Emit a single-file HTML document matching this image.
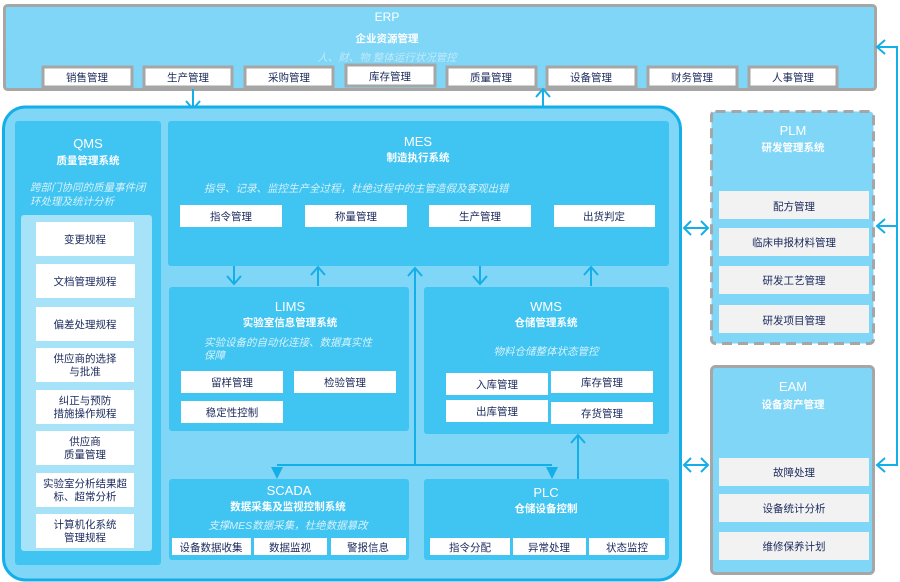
<!DOCTYPE html>
<html><head><meta charset="utf-8"><style>
html,body{margin:0;padding:0;background:#fff;width:900px;height:582px;overflow:hidden}
text{font-family:"Liberation Sans","Noto Sans CJK SC",sans-serif}
.t{fill:#fff;font-weight:bold;text-anchor:middle}
.h{fill:#fff;font-weight:normal;text-anchor:middle}
.it{fill:#d6f1fc;font-style:italic;font-size:10.5px}
.k{fill:#1b2a5c;font-size:10.5px;text-anchor:middle}
.ln{stroke:#14aee8;stroke-width:2;fill:none}
</style></head><body>
<svg width="900" height="582" viewBox="0 0 900 582" xmlns="http://www.w3.org/2000/svg">
<!-- ERP -->
<rect x="4.5" y="5.5" width="871" height="84" rx="3" fill="#7fd6f7" stroke="#a6a6a6" stroke-width="3"/>
<text x="387" y="21" class="h" font-size="12">ERP</text>
<text x="387" y="42" class="t" font-size="10.5">企业资源管理</text>
<text x="387" y="61" class="it" text-anchor="middle" style="fill:#c0e9fa">人、财、物 整体运行状况管控</text>
<g stroke="#a6a6a6" stroke-width="3" fill="#fff">
<rect x="43" y="67" width="89" height="20"/><rect x="144" y="67" width="88" height="20"/>
<rect x="245" y="67" width="88" height="20"/><rect x="346" y="65" width="89" height="21"/>
<rect x="447" y="67" width="89" height="20"/><rect x="547" y="67" width="89" height="20"/>
<rect x="648" y="67" width="89" height="20"/><rect x="749" y="67" width="88" height="20"/>
</g>
<text x="87" y="81" class="k">销售管理</text><text x="188" y="81" class="k">生产管理</text>
<text x="289" y="81" class="k">采购管理</text><text x="390" y="80" class="k">库存管理</text>
<text x="491" y="81" class="k">质量管理</text><text x="591" y="81" class="k">设备管理</text>
<text x="692" y="81" class="k">财务管理</text><text x="793" y="81" class="k">人事管理</text>
<!-- ERP arrows -->
<path class="ln" d="M193 89V109 M186 101L193 109L200 101"/>
<path class="ln" d="M543 107V89 M536 97L543 89L550 97"/>
<path class="ln" d="M877 47H897V465H878 M885 40L877 47L885 54 M885 219L877 226L885 233 M885 458L877 465L885 472 M877 226H897"/>
<!-- big container -->
<rect x="3.5" y="107" width="677" height="473" rx="22" fill="#7fd6f7" stroke="#14aee8" stroke-width="3"/>
<!-- QMS -->
<rect x="15" y="121" width="146" height="444" rx="3" fill="#40c4f1"/>
<text x="88" y="148" class="h" font-size="13">QMS</text>
<text x="88" y="164" class="t" font-size="10.5">质量管理系统</text>
<text x="30" y="191" class="it">跨部门协同的质量事件闭</text>
<text x="30" y="205" class="it">环处理及统计分析</text>
<rect x="21" y="215" width="131" height="336" rx="3" fill="#a6e3f8"/>
<g fill="#fff"><rect x="36" y="222" width="98" height="34"/><rect x="36" y="264" width="99" height="34"/>
<rect x="36" y="307" width="98" height="34"/><rect x="36" y="348" width="98" height="34"/>
<rect x="36" y="390" width="98" height="34"/><rect x="36" y="431" width="98" height="34"/>
<rect x="36" y="473" width="98" height="34"/><rect x="36" y="514" width="98" height="34"/></g>
<text x="85" y="243" class="k">变更规程</text><text x="85" y="285" class="k">文档管理规程</text>
<text x="85" y="328" class="k">偏差处理规程</text>
<text x="85" y="362" class="k">供应商的选择</text><text x="85" y="375" class="k">与批准</text>
<text x="85" y="404" class="k">纠正与预防</text><text x="85" y="417" class="k">措施操作规程</text>
<text x="85" y="445" class="k">供应商</text><text x="85" y="458" class="k">质量管理</text>
<text x="85" y="487" class="k">实验室分析结果超</text><text x="85" y="500" class="k">标、超常分析</text>
<text x="85" y="528" class="k">计算机化系统</text><text x="85" y="541" class="k">管理规程</text>
<!-- MES -->
<rect x="168" y="121" width="501" height="145" rx="3" fill="#40c4f1"/>
<text x="418" y="146" class="h" font-size="13">MES</text>
<text x="418" y="161" class="t" font-size="10.5">制造执行系统</text>
<text x="204" y="192" class="it">指导、记录、监控生产全过程，杜绝过程中的主管造假及客观出错</text>
<g fill="#fff"><rect x="180" y="205" width="102" height="22"/><rect x="305" y="205" width="102" height="22"/>
<rect x="429" y="205" width="102" height="22"/><rect x="554" y="205" width="101" height="22"/></g>
<text x="231" y="220" class="k">指令管理</text><text x="356" y="220" class="k">称量管理</text>
<text x="480" y="220" class="k">生产管理</text><text x="604" y="220" class="k">出货判定</text>
<!-- arrows MES -->
<path class="ln" d="M234 266V284 M227 276L234 284L241 276"/>
<path class="ln" d="M318 286V267 M311 275L318 267L325 275"/>
<path class="ln" d="M415 464V268 M408 276L415 268L422 276"/>
<path class="ln" d="M480 266V284 M473 276L480 284L487 276"/>
<path class="ln" d="M591 286V267 M584 275L591 267L598 275"/>
<!-- LIMS -->
<rect x="169" y="287" width="240" height="144" rx="3" fill="#40c4f1"/>
<text x="290" y="311" class="h" font-size="13">LIMS</text>
<text x="290" y="326" class="t" font-size="10.5">实验室信息管理系统</text>
<text x="204" y="346" class="it">实验设备的自动化连接、数据真实性</text>
<text x="204" y="359" class="it">保障</text>
<g fill="#fff"><rect x="181" y="371" width="102" height="22"/><rect x="294" y="371" width="102" height="22"/>
<rect x="181" y="401" width="102" height="22"/></g>
<text x="232" y="386" class="k">留样管理</text><text x="345" y="386" class="k">检验管理</text>
<text x="232" y="416" class="k">稳定性控制</text>
<!-- WMS -->
<rect x="424" y="287" width="245" height="147" rx="3" fill="#40c4f1"/>
<text x="546" y="311" class="h" font-size="13">WMS</text>
<text x="546" y="326" class="t" font-size="10.5">仓储管理系统</text>
<text x="546" y="355" class="it" text-anchor="middle">物料仓储整体状态管控</text>
<g fill="#fff"><rect x="446" y="373" width="102" height="22"/><rect x="551" y="371" width="102" height="22"/>
<rect x="446" y="400" width="102" height="22"/><rect x="551" y="402" width="102" height="22"/></g>
<text x="497" y="388" class="k">入库管理</text><text x="602" y="386" class="k">库存管理</text>
<text x="497" y="415" class="k">出库管理</text><text x="602" y="417" class="k">存货管理</text>
<!-- lower connectors -->
<path class="ln" d="M277 465H552"/>
<path d="M271 467H283L277 479Z M546 467H558L552 479Z" fill="#14aee8"/>
<path class="ln" d="M578 480V435 M571 443L578 435L585 443"/>
<!-- SCADA -->
<rect x="169" y="479" width="240" height="81" rx="3" fill="#40c4f1"/>
<text x="289" y="495" class="h" font-size="13">SCADA</text>
<text x="288" y="510" class="t" font-size="10.5">数据采集及监视控制系统</text>
<text x="288" y="529" class="it" text-anchor="middle">支撑MES数据采集，杜绝数据篡改</text>
<g fill="#fff"><rect x="172" y="538" width="79" height="17"/><rect x="254" y="538" width="73" height="17"/>
<rect x="331" y="538" width="75" height="17"/></g>
<text x="211" y="551" class="k">设备数据收集</text><text x="290" y="551" class="k">数据监视</text>
<text x="368" y="551" class="k">警报信息</text>
<!-- PLC -->
<rect x="424" y="479" width="245" height="81" rx="3" fill="#40c4f1"/>
<text x="546" y="497" class="h" font-size="13">PLC</text>
<text x="546" y="512" class="t" font-size="10.5">仓储设备控制</text>
<g fill="#fff"><rect x="430" y="538" width="80" height="17"/><rect x="513" y="538" width="73" height="17"/>
<rect x="589" y="538" width="76" height="17"/></g>
<text x="470" y="551" class="k">指令分配</text><text x="549" y="551" class="k">异常处理</text>
<text x="627" y="551" class="k">状态监控</text>
<!-- double arrows -->
<path class="ln" d="M684 228H708 M691 221L684 228L691 235 M701 221L708 228L701 235"/>
<path class="ln" d="M684 465H708 M691 458L684 465L691 472 M701 458L708 465L701 472"/>
<!-- PLM -->
<rect x="711.5" y="111.5" width="162" height="232" rx="4" fill="#7fd6f7" stroke="#a6a6a6" stroke-width="3" stroke-dasharray="10,6"/>
<text x="793" y="135" class="h" font-size="13">PLM</text>
<text x="793" y="151" class="t" font-size="10.5">研发管理系统</text>
<g fill="#f2f2f2"><rect x="719" y="191" width="150" height="28"/><rect x="719" y="228" width="150" height="28"/>
<rect x="719" y="266" width="150" height="28"/><rect x="719" y="305" width="150" height="28"/></g>
<text x="794" y="210" class="k">配方管理</text><text x="794" y="246" class="k">临床申报材料管理</text>
<text x="794" y="284" class="k">研发工艺管理</text><text x="794" y="324" class="k">研发项目管理</text>
<!-- EAM -->
<rect x="711.5" y="366.5" width="162" height="207" rx="4" fill="#7fd6f7" stroke="#a6a6a6" stroke-width="3"/>
<text x="793" y="391" class="h" font-size="13">EAM</text>
<text x="793" y="408" class="t" font-size="10.5">设备资产管理</text>
<g fill="#f2f2f2"><rect x="719" y="458" width="150" height="28"/><rect x="719" y="494" width="150" height="28"/>
<rect x="719" y="532" width="150" height="28"/></g>
<text x="794" y="476" class="k">故障处理</text><text x="794" y="512" class="k">设备统计分析</text>
<text x="794" y="550" class="k">维修保养计划</text>
</svg>
</body></html>
